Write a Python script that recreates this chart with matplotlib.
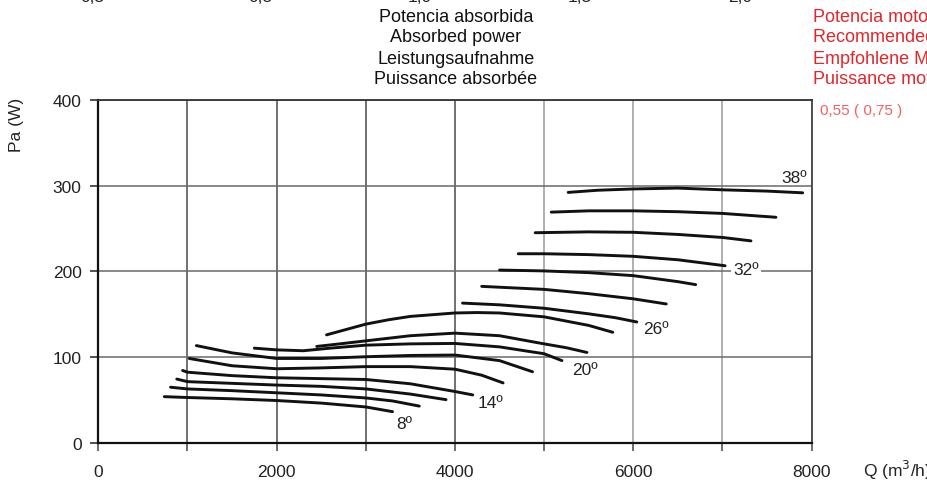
import matplotlib.pyplot as plt

plt.rcParams['font.family'] = ['Liberation Sans', 'DejaVu Sans']

# ── Datos: caudal Q (m3/h) y potencia absorbida Pa (W) por ángulo de pala ──
angles = [8, 10, 12, 14, 16, 18, 20, 22, 24, 26, 28, 30, 32, 34, 36, 38]

q_curves = [
    [740, 1000, 1500, 2000, 2500, 3000, 3300],
    [810, 1000, 1500, 2000, 2500, 3000, 3300, 3600],
    [880, 1000, 1500, 2000, 2500, 3000, 3500, 3900],
    [945, 1000, 1500, 2000, 2500, 3000, 3500, 4000, 4200],
    [1020, 1500, 2000, 2500, 3000, 3500, 4000, 4300, 4540],
    [1100, 1500, 2000, 2500, 3000, 3500, 4000, 4500, 4870],
    [1750, 2000, 2300, 2600, 3000, 3500, 4000, 4500, 5000, 5200],
    [2450, 2750, 3000, 3500, 4000, 4500, 5000, 5250, 5480],
    [2560, 3000, 3250, 3500, 4000, 4250, 4500, 5000, 5500, 5770],
    [4085, 4500, 5000, 5500, 5800, 6040],
    [4300, 5000, 5500, 6000, 6370],
    [4500, 5000, 5500, 6000, 6500, 6700],
    [4710, 5000, 5500, 6000, 6500, 7030],
    [4900, 5500, 6000, 6500, 7000, 7320],
    [5080, 5500, 6000, 6500, 7000, 7600],
    [5270, 5600, 6000, 6500, 7000, 7500, 7900],
]
pa_curves = [
    [54, 53, 51.5, 49.5, 46.5, 42, 36.5],
    [65, 63, 61, 58.5, 56, 52.5, 49, 43],
    [74.5, 71.5, 69.5, 67.5, 66, 63, 57, 50.5],
    [84.5, 82.5, 78.5, 76, 75, 74, 69, 60, 56],
    [98.5, 90, 86.5, 87.5, 89, 89, 86, 79, 70],
    [113.5, 105, 98.5, 98.5, 100.5, 102, 102.5, 96, 83],
    [110.5, 108.5, 107.5, 110.5, 114, 115.5, 116, 112, 104, 96],
    [112.5, 116, 119, 125, 128, 125, 115.5, 111, 105.5],
    [126, 138.5, 143.5, 147.5, 151.5, 152, 151.5, 147, 137, 129],
    [163, 161, 157, 150.5, 146, 141],
    [182.5, 179, 174, 168, 162],
    [201.5, 200.5, 198.5, 195, 188, 184.5],
    [220.5, 220.5, 219.5, 217.5, 213.5, 206.5],
    [245, 246, 245.5, 243, 239.5, 235.5],
    [269, 270.5, 270.5, 269.5, 267.5, 263],
    [292, 294.5, 296, 297, 295, 293.5, 291.5],
]

# etiquetas de ángulo (cada tercera curva)
label_angles = [8, 14, 20, 26, 32, 38]
label_q = [3430, 4395, 5460, 6255, 7265, 7800]
label_pa = [23, 47, 86, 133, 202, 309]

x_ticks = [0, 1000, 2000, 3000, 4000, 5000, 6000, 7000, 8000]
x_ticklabels = ['0', '', '2000', '', '4000', '', '6000', '', '8000']
y_ticks = [0, 100, 200, 300, 400]

title_lines = ['Potencia absorbida', 'Absorbed power', 'Leistungsaufnahme', 'Puissance absorbée']
motor_lines = ['Potencia motor recomendada', 'Recommended motor power',
               'Empfohlene Motorleistung', 'Puissance moteur recommandée']
motor_value = '0,55 ( 0,75 )'
top_ticks = ['0,5', '0,8', '1,0', '1,5', '2,0']
top_ticks_x = [92, 260, 420, 580, 740]

# ── Figura ─────────────────────────────────────────────────────────────────
W, H = 928, 485
fig = plt.figure(figsize=(W / 100, H / 100), dpi=100)
fig.patch.set_facecolor('white')
ax = fig.add_axes([98.3 / W, 41 / H, 713.3 / W, 343.3 / H])

ax.set_xlim(0, 8000)
ax.set_ylim(0, 400)
ax.set_xticks(x_ticks)
ax.set_xticklabels(x_ticklabels)
ax.set_yticks(y_ticks)

ax.grid(True, linewidth=1.1)
for i, gl in enumerate(ax.xaxis.get_gridlines()):
    gl.set_color('#4a4a4a' if x_ticks[i] <= 4000 else '#9a9a9a')
for gl in ax.yaxis.get_gridlines():
    gl.set_color('#6a6a6a')
ax.set_axisbelow(True)

for side in ('left', 'bottom'):
    ax.spines[side].set_color('#111111')
    ax.spines[side].set_linewidth(1.6)
ax.spines['top'].set_color('#333333')
ax.spines['top'].set_linewidth(1.3)
ax.spines['right'].set_color('#444444')
ax.spines['right'].set_linewidth(1.3)

ax.tick_params(axis='x', direction='out', length=6, width=1.1, color='#444444',
               pad=9, labelsize=12.5, labelcolor='#222222')
ax.tick_params(axis='y', direction='out', length=6, width=1.1, color='#222222',
               pad=6, labelsize=12.5, labelcolor='#222222')

for q, pa in zip(q_curves, pa_curves):
    ax.plot(q, pa, color='#111111', linewidth=2.1, solid_capstyle='round',
            solid_joinstyle='round')

for a, xq, yp in zip(label_angles, label_q, label_pa):
    ax.text(xq, yp, f'{a}º', ha='center', va='center', fontsize=12.5, color='#222222',
            bbox=dict(boxstyle='square,pad=0.15', fc='white', ec='none') if a == 32 else None)

# ── Textos ─────────────────────────────────────────────────────────────────
fig.text(17 / W, 1 - 125 / H, 'Pa (W)', rotation=90, ha='center', va='center',
         fontsize=12.5, color='#222222')
fig.text(863 / W, 1 - 470 / H, 'Q (m$^3$/h)', ha='left', va='center',
         fontsize=12.5, color='#222222')

for i, (t1, t2) in enumerate(zip(title_lines, motor_lines)):
    yy = 1 - (17 + 21 * i) / H
    fig.text(456 / W, yy, t1, ha='center', va='center', fontsize=13, color='#111111')
    fig.text(813 / W, yy, t2, ha='left', va='center', fontsize=13, color='#e3262b')

fig.text(820 / W, 1 - 111 / H, motor_value, ha='left', va='center',
         fontsize=11, color='#f06262')

# restos de la escala del gráfico superior (cortados)
for t, xx in zip(top_ticks, top_ticks_x):
    fig.text(xx / W, 1 + 3 / H, t, ha='center', va='center', fontsize=12.5,
             color='#222222')

fig.savefig('out.png', dpi=100, facecolor='white')
